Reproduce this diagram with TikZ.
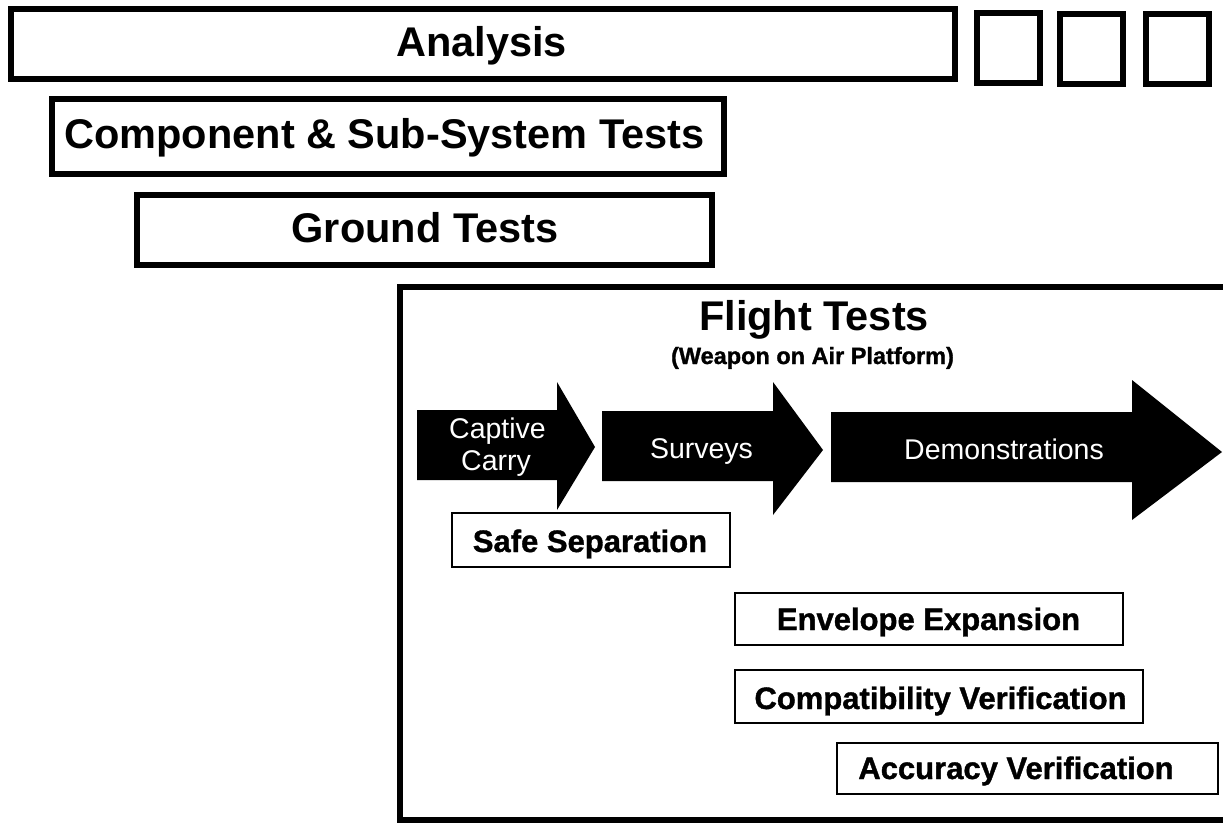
\documentclass[tikz,border=0pt]{standalone}
\usepackage{fontspec}
\setmainfont{Liberation Sans}
% heavier face for the activity labels
\newfontfamily\heavyface{Liberation Sans Bold}[FakeBold=1.2]
\begin{document}
\begin{tikzpicture}[x=1pt,y=-1pt,
  bigbox/.style={draw, line width=6pt, inner sep=0pt},
  smallbox/.style={draw, line width=2pt, inner sep=0pt},
  bigtext/.style={font=\bfseries\fontsize{41.5}{48}\selectfont, anchor=base, inner sep=0pt},
  subtext/.style={font=\heavyface\fontsize{23.5}{28}\selectfont, anchor=base, inner sep=0pt},
  phasetext/.style={text=white, font=\fontsize{28.5}{33}\selectfont, anchor=base, inner sep=0pt},
  tasktext/.style={font=\heavyface\fontsize{31}{36}\selectfont, anchor=base, inner sep=0pt},
  phase/.style={fill=black}]
\useasboundingbox (0,0) rectangle (1223,824);
\clip (0,0) rectangle (1223,824);

% analysis bar and the three empty squares
\node[bigbox, minimum width=944pt, minimum height=70pt] (analysis) at (483,44) {};
\node[bigtext] (analysislbl) at (481.5,57) {Analysis};
\node[bigbox, minimum width=63pt, minimum height=70.5pt] (sq1) at (1008,48.25) {};
\node[bigbox, minimum width=62.5pt, minimum height=70.5pt] (sq2) at (1091.25,49.25) {};
\node[bigbox, minimum width=62.5pt, minimum height=69.5pt] (sq3) at (1177.25,49.25) {};

% component and ground test bars
\node[bigbox, minimum width=672pt, minimum height=75pt] (component) at (388,136.5) {};
\node[bigtext] (componentlbl) at (384.5,148) {Component \& Sub-System Tests};
\node[bigbox, minimum width=575pt, minimum height=70pt] (ground) at (424.5,230) {};
\node[bigtext] (groundlbl) at (425,242) {Ground Tests};

% flight test frame (runs off the right side)
\node[bigbox, minimum width=840pt, minimum height=533pt] (flight) at (820,553.5) {};
\node[bigtext] (flightlbl) at (814,330) {Flight Tests};
\node[subtext] (flightsub) at (812.5,364) {(Weapon on Air Platform)};

% phase arrows
\fill[phase] (417,410) -- (557,410) -- (557,382) -- (595,447) -- (557,510) -- (557,480) -- (417,480) -- cycle;
\fill[phase] (602,411) -- (773,411) -- (773,382) -- (823,450) -- (773,515) -- (773,481) -- (602,481) -- cycle;
\fill[phase] (831,412) -- (1132,412) -- (1132,380) -- (1222,452) -- (1132,520) -- (1132,482) -- (831,482) -- cycle;
\node[phasetext] (captive) at (497.5,438) {Captive};
\node[phasetext] (carry) at (496,470.5) {Carry};
\node[phasetext] (surveys) at (701.5,458) {Surveys};
\node[phasetext] (demo) at (1004,459) {Demonstrations};

% activity boxes
\node[smallbox, minimum width=278pt, minimum height=54pt] (safe) at (591,540) {};
\node[tasktext] (safelbl) at (590,552) {Safe Separation};
\node[smallbox, minimum width=388pt, minimum height=52pt] (envelope) at (929,619) {};
\node[tasktext] (envelopelbl) at (928.5,630) {Envelope Expansion};
\node[smallbox, minimum width=408pt, minimum height=53pt] (compat) at (939,696.5) {};
\node[tasktext] (compatlbl) at (940.5,709) {Compatibility Verification};
\node[smallbox, minimum width=381pt, minimum height=51pt] (accuracy) at (1027.5,768.5) {};
\node[tasktext] (accuracylbl) at (1016,779) {Accuracy Verification};
\end{tikzpicture}
\end{document}
